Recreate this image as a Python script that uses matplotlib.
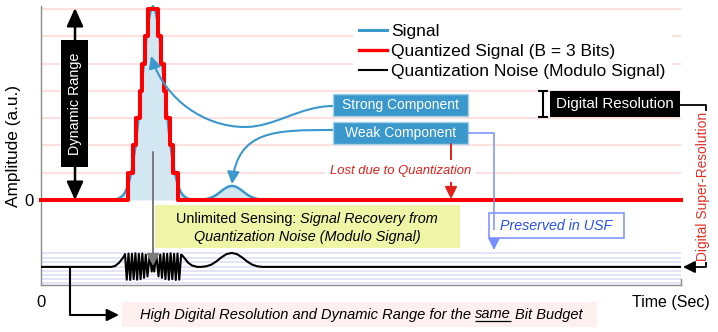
import matplotlib
matplotlib.use("Agg")
import matplotlib.pyplot as plt
from matplotlib.patches import Rectangle, FancyArrowPatch
from matplotlib.path import Path
from matplotlib.lines import Line2D

plt.rcParams['font.family'] = ['Liberation Sans', 'DejaVu Sans']

# quantizer levels (B = 3 bits) and the finer modulo levels
quant_levels = [1, 2, 3, 4, 5, 6, 7]
modulo_levels = [-1.94, -2.11, -2.27, -2.45, -2.60, -2.75, -2.90, -3.05]

# signal: strong pulse + weak pulse
signal_t = [0.0, 1.125, 1.219, 1.281, 1.313, 1.344, 1.375, 1.406, 1.438, 1.469,
            1.5, 1.531, 1.563, 1.594, 1.625, 1.656, 1.688, 1.719, 1.75,
            1.781, 1.812, 1.844, 1.875, 1.906, 1.937, 1.969, 2.0, 2.031,
            2.062, 2.094, 2.125, 2.156, 2.187, 2.219, 2.281, 2.375,
            2.484, 2.547, 2.609, 2.672, 2.734, 2.797, 2.859, 2.922, 2.984,
            3.047, 3.109, 3.172, 3.234, 3.297, 3.359, 3.422, 3.484, 10.0]
signal_amp = [0.0, 0.0, 0.06, 0.17, 0.28, 0.44, 0.66, 0.96, 1.36, 1.86,
              2.46, 3.16, 3.92, 4.70, 5.45, 6.12, 6.65, 6.98, 7.10,
              6.98, 6.65, 6.12, 5.45, 4.70, 3.92, 3.16, 2.46, 1.86,
              1.36, 0.96, 0.66, 0.44, 0.28, 0.17, 0.06, 0.0,
              0.007, 0.02, 0.048, 0.10, 0.18, 0.286, 0.40, 0.486, 0.52,
              0.486, 0.40, 0.286, 0.18, 0.10, 0.048, 0.02, 0.007, 0.0]

# quantized signal (step changes)
quant_t = [0.0, 1.355, 1.438, 1.49, 1.542, 1.58, 1.62, 1.672, 1.828, 1.88,
           1.92, 1.958, 2.01, 2.062, 2.145, 10.0]
quant_amp = [0, 1, 2, 3, 4, 5, 6, 7, 6, 5, 4, 3, 2, 1, 0, 0]

# quantization noise (modulo signal), drawn offset below zero
noise_t = [0.0, 1.10, 1.156, 1.22, 1.27, 1.30,
           1.3125, 1.34, 1.367, 1.394, 1.421, 1.448, 1.475, 1.502, 1.529,
           1.556, 1.583, 1.61, 1.637, 1.664, 1.70, 1.73, 1.75, 1.77, 1.80,
           1.836, 1.863, 1.89, 1.917, 1.944, 1.971, 1.998, 2.025, 2.052,
           2.079, 2.106, 2.133, 2.16, 2.19, 2.203,
           2.25, 2.30, 2.36, 2.44, 2.50, 2.58, 2.66, 2.74, 2.82, 2.90,
           2.98, 3.06, 3.14, 3.22, 3.30, 3.38, 3.46, 10.0]
noise_amp = [-2.45, -2.45, -2.42, -2.3, -2.15, -2.05,
             -1.98, -2.92, -1.96, -2.93, -1.97, -2.9, -1.95, -2.92, -1.97,
             -2.9, -1.96, -2.85, -2.0, -2.8, -1.98, -2.62, -2.3, -2.62, -1.98,
             -2.8, -2.0, -2.85, -1.96, -2.9, -1.97, -2.92, -1.95, -2.9,
             -1.97, -2.93, -1.96, -2.92, -2.0, -2.02,
             -2.15, -2.3, -2.4, -2.45, -2.45, -2.43, -2.37, -2.25, -2.1, -1.98,
             -1.94, -1.98, -2.1, -2.25, -2.37, -2.43, -2.45, -2.45]

legend_labels = ['Signal', 'Quantized Signal (B = 3 Bits)',
                 'Quantization Noise (Modulo Signal)']

W, H = 718, 332
ZERO_Y, LEVEL_PX = 200, 27.3
Y_BOT = -(285 - ZERO_Y) / LEVEL_PX
Y_TOP = 7.1


def P(x, y):
    return (x / W, 1 - y / H)


fig = plt.figure(figsize=(W / 100, H / 100), dpi=100)
top_px = ZERO_Y - Y_TOP * LEVEL_PX
ax = fig.add_axes([41 / W, 1 - 285 / H, 640 / W, (285 - top_px) / H])
ax.set_xlim(0, 10)
ax.set_ylim(Y_BOT, Y_TOP)

for lv in quant_levels:
    ax.axhline(lv, color='#fde1e1', lw=1.5, zorder=1)
for lv in modulo_levels:
    ax.axhline(lv, color='#dcdcf8', lw=1.1, zorder=1)

ax.fill_between(signal_t, signal_amp, 0, color='#d3e7f2', lw=0, zorder=2)
ax.plot(signal_t, signal_amp, color='#3a98cc', lw=1.8, zorder=3, clip_on=False)
ax.step(quant_t, quant_amp, where='post', color='#ff0000', lw=2.9, zorder=4,
        clip_on=False)
ax.plot(noise_t, noise_amp, color='black', lw=1.5, zorder=4)

for s in ['top', 'right']:
    ax.spines[s].set_visible(False)
for s in ['left', 'bottom']:
    ax.spines[s].set_color('#8c8c8c')
    ax.spines[s].set_linewidth(1.0)
ax.plot([1, 1], [0, 0.02], transform=ax.transAxes, color='#8c8c8c', lw=1.0,
        clip_on=False)

ax.set_xticks([0])
ax.set_xticklabels(['0'])
ax.set_yticks([0])
ax.set_yticklabels(['0'])
ax.tick_params(axis='x', length=0, labelsize=12, pad=7)
ax.tick_params(axis='y', length=0, labelsize=12, pad=5)

handles = [Line2D([], [], color='#3a98cc', lw=2.2),
           Line2D([], [], color='#ff0000', lw=2.4),
           Line2D([], [], color='black', lw=1.5)]
ax.legend(handles, legend_labels, loc='upper left',
          bbox_to_anchor=P(353, 18), bbox_transform=fig.transFigure,
          borderaxespad=0, fontsize=12.5, frameon=True, facecolor='white',
          edgecolor='none', framealpha=1, fancybox=False, borderpad=0.35,
          handlelength=1.6, handletextpad=0.25, labelspacing=0.27)

fig.text(*P(14, 146), 'Amplitude (a.u.)', rotation=90, ha='center',
         va='center', fontsize=12.4)
fig.text(*P(671, 302), 'Time (Sec)', ha='center', va='center', fontsize=11.5)


def box(x0, y0, x1, y1, **kw):
    r = Rectangle(P(x0, y1), (x1 - x0) / W, (y1 - y0) / H,
                  transform=fig.transFigure, **kw)
    fig.add_artist(r)


def line(pts, color, lw):
    fig.add_artist(Line2D([p[0] / W for p in pts], [1 - p[1] / H for p in pts],
                          transform=fig.transFigure, color=color, lw=lw,
                          solid_capstyle='butt'))


def arrow(p0, p1, color, lw, style='-|>,head_length=0.6,head_width=0.3', ms=12):
    fig.add_artist(FancyArrowPatch(P(*p0), P(*p1), transform=fig.transFigure,
                                   arrowstyle=style, mutation_scale=ms,
                                   color=color, lw=lw, shrinkA=0, shrinkB=0))


def curve(pts, color, lw):
    verts = [P(*p) for p in pts]
    codes = [Path.MOVETO] + [Path.CURVE4] * (len(pts) - 1)
    fig.add_artist(FancyArrowPatch(path=Path(verts, codes),
                                   transform=fig.transFigure,
                                   arrowstyle='-|>,head_length=0.6,head_width=0.3',
                                   mutation_scale=12, color=color, lw=lw))


renderer = fig.canvas.get_renderer()


def run_text(x, y, parts, size):
    # a line of text made of (string, style) parts, placed one after another
    texts = []
    space = 0.278 * size * 100 / 72
    for i, (s, st) in enumerate(parts):
        if i > 0:
            x = texts[-1].get_window_extent(renderer).x1 / W * W + space
        t = fig.text(*P(x, y), s, ha='left', va='baseline', fontsize=size,
                     style=st)
        texts.append(t)
    return texts


# dynamic range
arrow((75, 8), (75, 200), 'black', 1.8,
      style='<|-|>,head_length=0.55,head_width=0.25', ms=20)
box(61, 40, 88, 167, facecolor='black', edgecolor='none')
fig.text(*P(75, 103.5), 'Dynamic Range', rotation=90, color='white',
         ha='center', va='center', fontsize=10.4)

# strong / weak component labels
blue = '#3a98cc'
curve([(333, 106), (300, 106), (275, 127), (245, 127),
       (205, 127), (165, 100), (151, 56)], blue, 1.5)
curve([(333, 130), (275, 130), (238, 130), (232, 184)], blue, 1.5)
box(333, 94, 468, 116, facecolor=blue, edgecolor='#a3d2e8', lw=1)
fig.text(*P(400.5, 105), 'Strong Component', color='white', ha='center',
         va='center', fontsize=10)
box(333, 122, 468, 144, facecolor=blue, edgecolor='#a3d2e8', lw=1)
fig.text(*P(400.5, 133), 'Weak Component', color='white', ha='center',
         va='center', fontsize=10)

# lost due to quantization
red = '#e0201a'
arrow((451, 144), (451, 199), red, 1.4)
fig.text(*P(400.5, 171), 'Lost due to Quantization', color=red, style='italic',
         ha='center', va='center', fontsize=9.4,
         bbox=dict(boxstyle='square,pad=0.35', facecolor='white',
                   edgecolor='none'))

# preserved in USF
usf = '#7890ff'
line([(468, 133), (494, 133), (494, 230)], usf, 1.1)
arrow((494, 229), (494, 250), usf, 1.1)
box(489, 213, 624, 238, facecolor='white', edgecolor=usf, lw=1.1)
fig.text(*P(556.5, 225.5), 'Preserved in USF', color='#2a50f0',
         style='italic', ha='center', va='center', fontsize=10.3)

# digital resolution
line([(543, 91), (543, 117)], 'black', 1.5)
line([(538, 91), (548, 91)], 'black', 1.5)
line([(538, 117), (548, 117)], 'black', 1.5)
box(550, 91, 680, 117, facecolor='black', edgecolor='none')
fig.text(*P(615, 104), 'Digital Resolution', color='white', ha='center',
         va='center', fontsize=10.9)
line([(680, 105), (706, 105), (706, 111)], 'black', 1.3)
line([(706, 262), (706, 267), (692, 267)], 'black', 1.3)
arrow((693, 267), (683, 267), 'black', 1.3)
fig.text(*P(703, 186), 'Digital Super-Resolution', rotation=90,
         color='#e0302a', ha='center', va='center', fontsize=9.9)

# unlimited sensing
arrow((153, 152), (153, 266), '#7a7a7a', 1.4)
box(155, 205, 460, 248, facecolor='#eef5a6', edgecolor='none')
run_text(176, 222.5, [('Unlimited Sensing:', 'normal'),
                      ('Signal Recovery from', 'italic')], 10.4)
fig.text(*P(307.5, 237), 'Quantization Noise (Modulo Signal)', style='italic',
         ha='center', va='center', fontsize=10.4)

# bottom note
line([(70, 267), (70, 315), (110, 315)], 'black', 1.5)
arrow((108, 315), (119, 315), 'black', 1.5)
box(122, 302, 597, 327, facecolor='#fdf0ee', edgecolor='none')
parts = run_text(140, 318.5,
                 [('High Digital Resolution and Dynamic Range for the', 'italic'),
                  ('same', 'italic'), ('Bit Budget', 'italic')], 10.5)
ext = parts[1].get_window_extent(renderer)
line([(ext.x0, 320.5), (ext.x1, 320.5)], 'black', 0.9)

fig.savefig('out.png', dpi=100)
